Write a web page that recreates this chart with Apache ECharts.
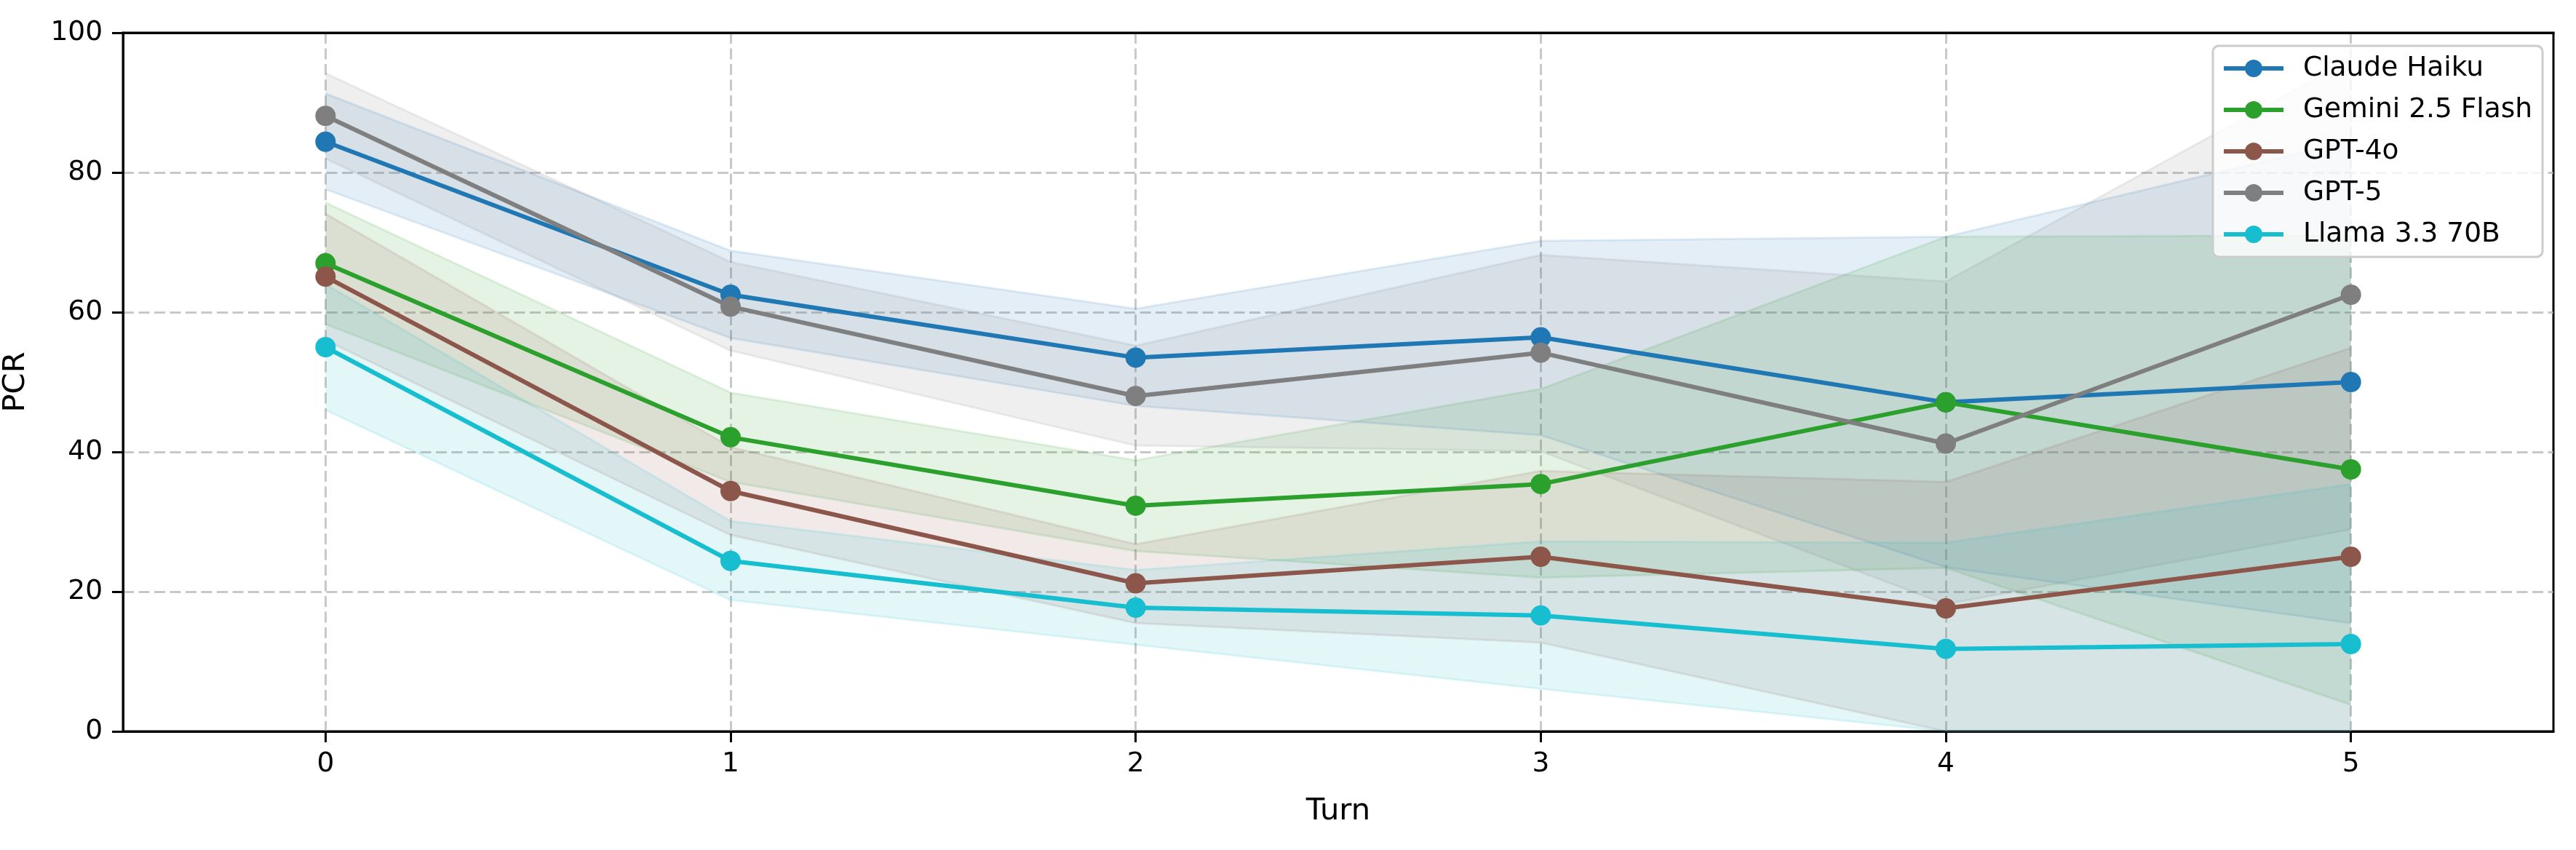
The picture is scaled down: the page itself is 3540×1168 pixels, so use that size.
<!DOCTYPE html>
<html>
<head>
<meta charset="utf-8">
<script src="https://cdn.jsdelivr.net/npm/echarts@6/dist/echarts.min.js"></script>
<style>
  html, body { margin: 0; padding: 0; background: #fff; }
  #main { width: 3540px; height: 1168px; }
</style>
</head>
<body>
<div id="main"></div>
<script>
// turns on the x axis
const turns = ['0', '1', '2', '3', '4', '5'];
const yTicks = [0, 20, 40, 60, 80, 100];

// mean PCR per turn and the shaded band (low / high)
const claudeMean = [84.4, 62.5, 53.5, 56.4, 47.1, 50.0];
const claudeLow  = [77.6, 56.3, 46.6, 42.4, 23.5, 15.5];
const claudeHigh = [91.3, 68.8, 60.5, 70.2, 70.8, 84.5];

const geminiMean = [67.0, 42.1, 32.3, 35.4, 47.1, 37.5];
const geminiLow  = [58.3, 35.7, 25.8, 22.0, 23.4, 3.8];
const geminiHigh = [75.7, 48.5, 38.8, 49.0, 70.8, 71.0];

const gpt4oMean = [65.1, 34.4, 21.2, 25.0, 17.6, 25.0];
const gpt4oLow  = [56.0, 28.1, 15.5, 12.7, 0.0, 0.0];
const gpt4oHigh = [74.1, 40.7, 26.8, 37.3, 35.7, 54.9];

const gpt5Mean = [88.1, 60.8, 48.0, 54.2, 41.2, 62.5];
const gpt5Low  = [82.0, 54.5, 40.9, 40.1, 18.2, 28.9];
const gpt5High = [94.2, 67.2, 55.2, 68.2, 64.4, 96.2];

const llamaMean = [55.0, 24.4, 17.7, 16.6, 11.8, 12.5];
const llamaLow  = [46.0, 18.8, 12.4, 6.1, 0.0, 0.0];
const llamaHigh = [64.0, 30.1, 23.1, 27.2, 27.0, 35.4];

const modelNames = ['Claude Haiku', 'Gemini 2.5 Flash', 'GPT-4o', 'GPT-5', 'Llama 3.3 70B'];
const means = [claudeMean, geminiMean, gpt4oMean, gpt5Mean, llamaMean];
const lows = [claudeLow, geminiLow, gpt4oLow, gpt5Low, llamaLow];
const highs = [claudeHigh, geminiHigh, gpt4oHigh, gpt5High, llamaHigh];

// tab10 colours
const colors = ['#1f77b4', '#2ca02c', '#8c564b', '#7f7f7f', '#17becf'];

const FONT = 'DejaVu Sans';

function withAlpha(hex, a) {
  const r = parseInt(hex.slice(1, 3), 16);
  const g = parseInt(hex.slice(3, 5), 16);
  const b = parseInt(hex.slice(5, 7), 16);
  return `rgba(${r},${g},${b},${a})`;
}

const gridLine = {
  show: true,
  lineStyle: { color: 'rgba(176,176,176,0.7)', width: 3, type: [15, 6.5] }
};

const series = [];
// bands first (drawn below all lines)
modelNames.forEach((name, i) => {
  const fill = withAlpha(colors[i], 0.12);
  series.push({
    name: name + ' band',
    type: 'line',
    stack: 'band' + i,
    data: lows[i],
    symbol: 'none',
    silent: true,
    z: 1,
    lineStyle: { color: fill, width: 3 }
  });
  series.push({
    name: name + ' band',
    type: 'line',
    stack: 'band' + i,
    data: highs[i].map((h, k) => +(h - lows[i][k]).toFixed(2)),
    symbol: 'none',
    silent: true,
    z: 1,
    lineStyle: { color: fill, width: 3 },
    areaStyle: { color: fill, opacity: 1 }
  });
});
// mean lines
modelNames.forEach((name, i) => {
  series.push({
    name: name,
    type: 'line',
    data: means[i],
    symbol: 'circle',
    symbolSize: 28,
    z: 3 + i,
    itemStyle: { color: colors[i] },
    lineStyle: { color: colors[i], width: 6 }
  });
});

const chart = echarts.init(document.getElementById('main'), null, { renderer: 'canvas' });
chart.setOption({
  backgroundColor: '#fff',
  animation: false,
  textStyle: { fontFamily: FONT },
  grid: {
    left: 169, right: 31, top: 45, bottom: 163,
    outerBoundsMode: 'none',
    containLabel: false,
    show: true, borderColor: '#000', borderWidth: 3, backgroundColor: 'transparent'
  },
  legend: {
    data: modelNames,
    orient: 'vertical',
    left: 3041,
    top: 63,
    padding: [12, 14, 12, 12],
    itemGap: 19,
    itemWidth: 82,
    itemHeight: 30,
    lineStyle: { width: 6 },
    backgroundColor: 'rgba(255,255,255,0.8)',
    borderColor: '#cccccc',
    borderWidth: 3,
    borderRadius: 8,
    textStyle: { fontFamily: FONT, fontSize: 37.5, color: '#000', padding: [0, 0, 0, 22] }
  },
  xAxis: [
    {
      type: 'category',
      data: turns,
      boundaryGap: true,
      name: 'Turn',
      nameLocation: 'middle',
      nameGap: 89,
      nameTextStyle: { fontFamily: FONT, fontSize: 41.7, color: '#000' },
      axisLine: { lineStyle: { color: '#000', width: 3 } },
      axisTick: { show: true, alignWithLabel: true, interval: 0, length: 15, lineStyle: { color: '#000', width: 3 } },
      axisLabel: { interval: 0, margin: 26, fontFamily: FONT, fontSize: 37.5, color: '#000' },
      splitLine: Object.assign({ alignWithLabel: true, interval: 0 }, gridLine)
    },
    {
      // top spine only
      type: 'category',
      data: turns,
      position: 'top',
      z: 1,
      axisLine: { show: true, lineStyle: { color: '#000', width: 3 } },
      axisTick: { show: false },
      axisLabel: { show: false },
      splitLine: { show: false }
    }
  ],
  yAxis: {
    type: 'value',
    min: yTicks[0],
    max: yTicks[yTicks.length - 1],
    interval: 20,
    name: 'PCR',
    nameLocation: 'middle',
    nameGap: 126,
    nameTextStyle: { fontFamily: FONT, fontSize: 41.7, color: '#000' },
    axisLine: { show: true, lineStyle: { color: '#000', width: 3 } },
    axisTick: { show: true, length: 15, lineStyle: { color: '#000', width: 3 } },
    axisLabel: { margin: 28, fontFamily: FONT, fontSize: 37.5, color: '#000' },
    splitLine: gridLine
  },
  series: series
});
</script>
</body>
</html>
